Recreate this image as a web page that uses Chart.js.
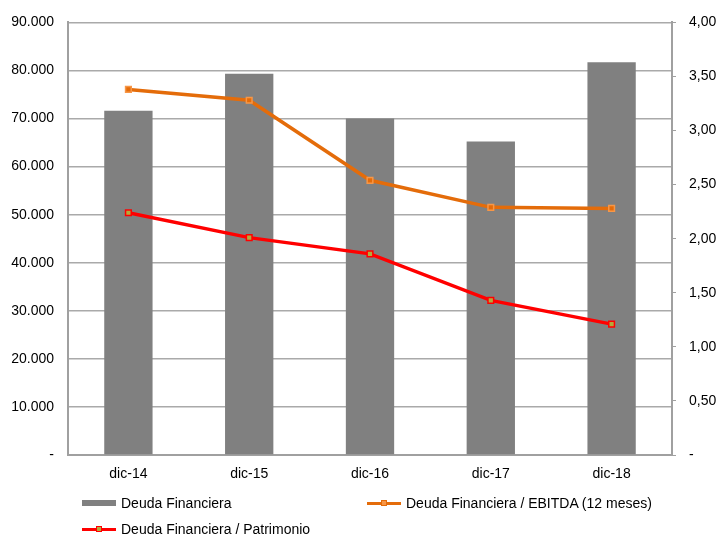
<!DOCTYPE html>
<html>
<head>
<meta charset="utf-8">
<script src="https://cdn.jsdelivr.net/npm/chart.js@4"></script>
<style>
  body { margin: 0; background: #fff; }
  #wrap { position: relative; width: 719px; height: 535px; }
  #leyenda { position: absolute; left: 0; top: 0; width: 719px; height: 535px; pointer-events: none;
    font-family: "Liberation Sans", Arial, sans-serif; font-size: 14px; color: #000; }
  .item { position: absolute; display: flex; align-items: center; }
  .item span.marca { display: inline-block; width: 34px; margin-right: 5px; position: relative; }
</style>
</head>
<body>
<div id="wrap">
  <canvas id="myChart" width="719" height="535"></canvas>
  <div id="leyenda"></div>
</div>
<script>
const periodos = ["dic-14", "dic-15", "dic-16", "dic-17", "dic-18"];
const deudaFinanciera = [71600, 79300, 70000, 65200, 81700];
const deudaEbitda = [3.38, 3.28, 2.54, 2.29, 2.28];
const deudaPatrimonio = [2.24, 2.01, 1.86, 1.43, 1.21];

const gris = "#808080";
const naranja = "#E46C0A";
const rojo = "#FF0000";
const fuente = { family: "'Liberation Sans', Arial, sans-serif", size: 14 };

const formatoMiles = (v) => v === 0 ? "-" : v.toLocaleString("de-DE");
const formatoDecimal = (v) => v === 0 ? "-" : v.toFixed(2).replace(".", ",");

var ctx = document.getElementById("myChart").getContext("2d");
let myChart = new Chart(ctx, {
  data: {
    labels: periodos,
    datasets: [
      {
        type: "line",
        label: "Deuda Financiera / Patrimonio",
        data: deudaPatrimonio,
        yAxisID: "y1",
        borderColor: rojo,
        borderWidth: 3.5,
        pointStyle: "rect",
        pointRadius: 4,
        pointBorderWidth: 1.5,
        pointBorderColor: rojo,
        pointBackgroundColor: "#B4AA3C",
        tension: 0,
        order: 1,
      },
      {
        type: "line",
        label: "Deuda Financiera / EBITDA (12 meses)",
        data: deudaEbitda,
        yAxisID: "y1",
        borderColor: naranja,
        borderWidth: 3.5,
        pointStyle: "rect",
        pointRadius: 4,
        pointBorderWidth: 1.5,
        pointBorderColor: "#F79646",
        pointBackgroundColor: naranja,
        tension: 0,
        order: 2,
      },
      {
        type: "bar",
        label: "Deuda Financiera",
        data: deudaFinanciera,
        yAxisID: "y",
        backgroundColor: gris,
        categoryPercentage: 1,
        barPercentage: 0.4,
        order: 3,
      },
    ],
  },
  options: {
    responsive: false,
    animation: false,
    layout: { padding: { top: 6, bottom: 0, left: 0, right: 0 } },
    plugins: { legend: { display: false }, tooltip: { enabled: false } },
    scales: {
      x: {
        grid: { display: false },
        border: { display: true, color: "#A0A0A0", width: 2 },
        ticks: { color: "#000", font: fuente, padding: 3 },
        afterFit: (s) => { s.height = 80; },
      },
      y: {
        position: "left",
        min: 0,
        max: 90000,
        grid: { color: "#AAAAAA", lineWidth: 1.5, drawTicks: false },
        border: { display: true, color: "#A0A0A0", width: 2 },
        ticks: { stepSize: 10000, color: "#000", font: fuente, padding: 14, callback: formatoMiles },
        afterFit: (s) => { s.width = 68; },
      },
      y1: {
        position: "right",
        min: 0,
        max: 4,
        grid: { drawOnChartArea: false, color: "#A0A0A0", tickLength: 4 },
        border: { display: true, color: "#A0A0A0", width: 2 },
        ticks: { stepSize: 0.5, color: "#000", font: fuente, padding: 13, callback: formatoDecimal },
        afterFit: (s) => { s.width = 47; },
      },
    },
  },
});

// leyenda en dos columnas, debajo del eje x
const leyenda = document.getElementById("leyenda");
const items = [
  { texto: "Deuda Financiera", tipo: "barra", color: gris, x: 82, y: 503 },
  { texto: "Deuda Financiera / EBITDA (12 meses)", tipo: "linea", color: naranja, relleno: "#F79646", x: 367, y: 503 },
  { texto: "Deuda Financiera / Patrimonio", tipo: "linea", color: rojo, relleno: "#B4AA3C", x: 82, y: 529 },
];
items.forEach((it) => {
  const div = document.createElement("div");
  div.className = "item";
  div.style.left = it.x + "px";
  div.style.top = (it.y - 8) + "px";
  div.style.height = "16px";
  const marca = document.createElement("span");
  marca.className = "marca";
  if (it.tipo === "barra") {
    marca.style.height = "6px";
    marca.style.background = it.color;
  } else {
    marca.style.height = "3px";
    marca.style.background = it.color;
    const p = document.createElement("span");
    p.style.cssText = `position:absolute;left:14px;top:-2px;width:4px;height:4px;border:1px solid ${it.color};background:${it.relleno}`;
    marca.appendChild(p);
  }
  div.appendChild(marca);
  const t = document.createElement("span");
  t.textContent = it.texto;
  div.appendChild(t);
  leyenda.appendChild(div);
});
</script>
</body>
</html>
